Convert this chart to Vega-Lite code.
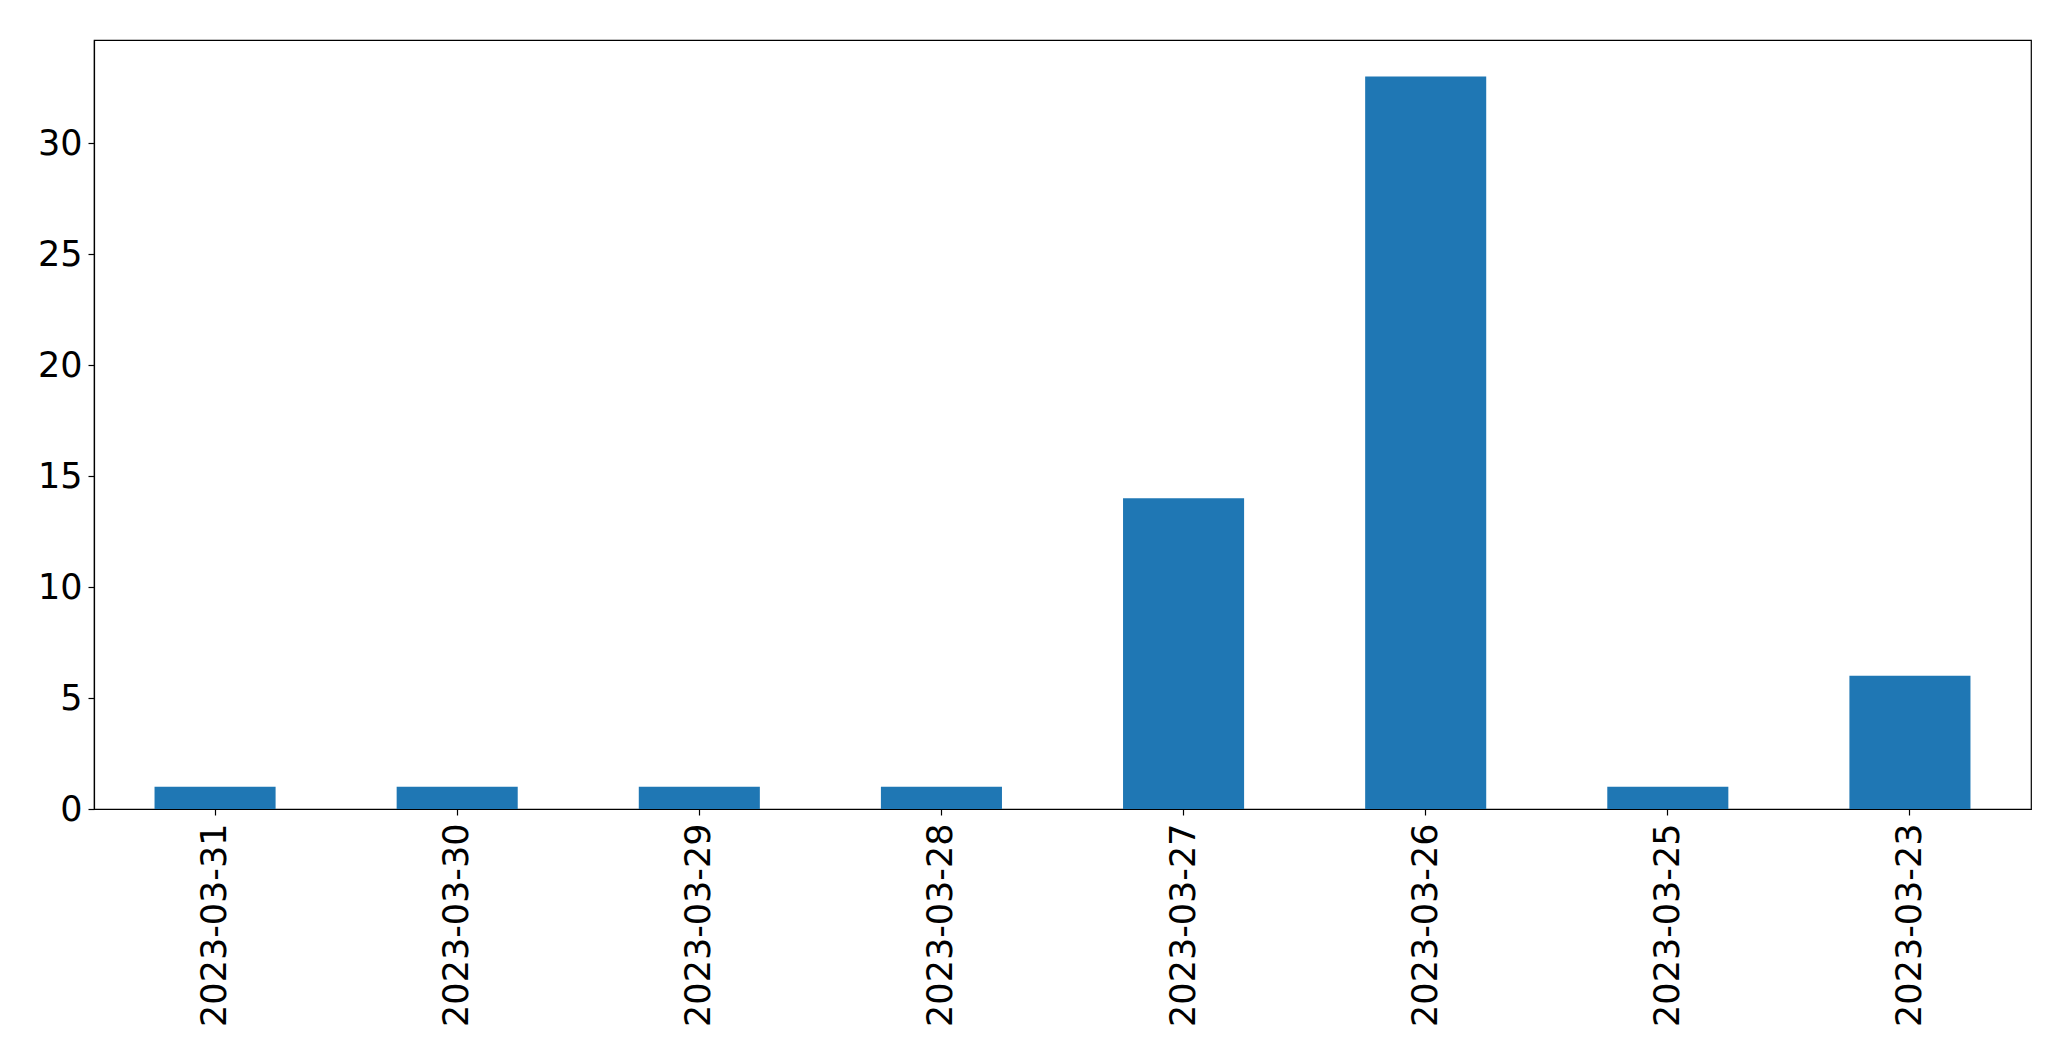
{
  "$schema": "https://vega.github.io/schema/vega-lite/v6.json",
  "autosize": {"type": "none"},
  "width": 1937,
  "height": 769,
  "padding": {"left": 94, "top": 40, "right": 40, "bottom": 252},
  "background": "white",
  "config": {
    "view": {"stroke": "black", "strokeWidth": 1.2},
    "axis": {
      "labelFont": "DejaVu Sans",
      "labelFontSize": 35,
      "labelColor": "black",
      "labelLimit": 0,
      "domainColor": "black",
      "domainWidth": 1.2,
      "tickColor": "black",
      "tickWidth": 1.2,
      "tickSize": 6,
      "grid": false,
      "title": null
    }
  },
  "data": {
    "values": [
      {"date": "2023-03-31", "count": 1},
      {"date": "2023-03-30", "count": 1},
      {"date": "2023-03-29", "count": 1},
      {"date": "2023-03-28", "count": 1},
      {"date": "2023-03-27", "count": 14},
      {"date": "2023-03-26", "count": 33},
      {"date": "2023-03-25", "count": 1},
      {"date": "2023-03-23", "count": 6}
    ]
  },
  "mark": {"type": "bar", "color": "#1f77b4"},
  "encoding": {
    "x": {
      "field": "date",
      "type": "nominal",
      "sort": null,
      "scale": {"paddingInner": 0.5, "paddingOuter": 0.25},
      "axis": {"labelAngle": -90, "labelAlign": "right", "labelBaseline": "middle", "labelPadding": 8}
    },
    "y": {
      "field": "count",
      "type": "quantitative",
      "scale": {"domain": [0, 34.65], "nice": false, "zero": true},
      "axis": {"values": [0, 5, 10, 15, 20, 25, 30], "labelPadding": 6}
    }
  }
}
